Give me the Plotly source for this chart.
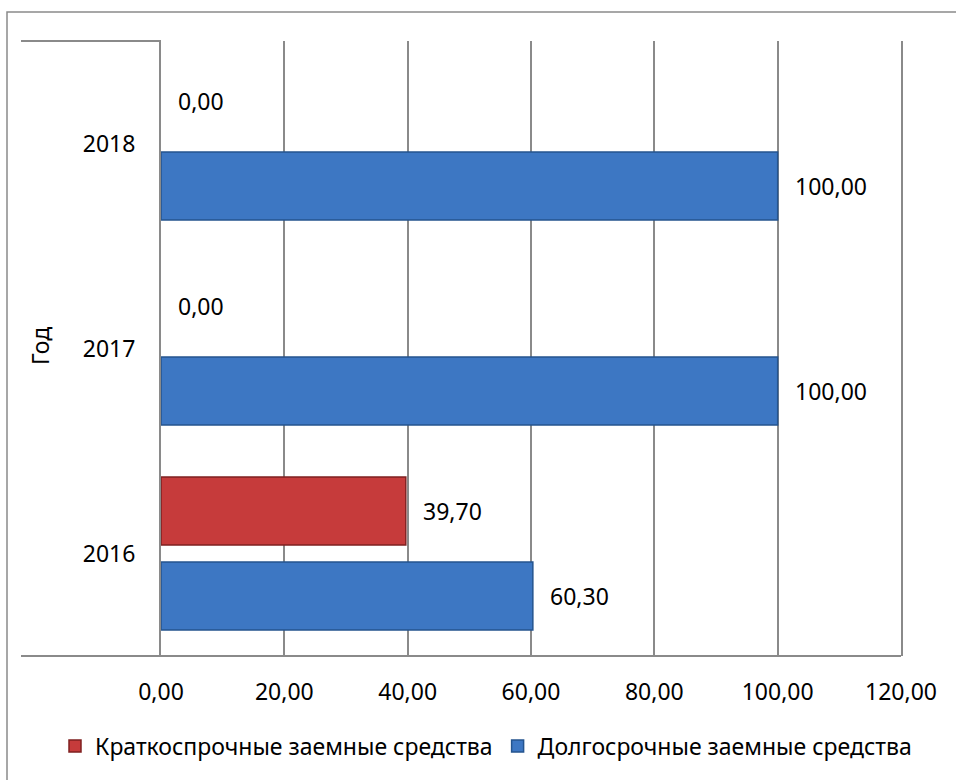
import plotly.graph_objects as go

years = ["2016", "2017", "2018"]
short_term = [39.70, 0.00, 0.00]
long_term = [60.30, 100.00, 100.00]
series_names = ["Краткоспрочные заемные средства", "Долгосрочные заемные средства"]
x_ticks = [0, 20, 40, 60, 80, 100, 120]
x_tick_labels = ["0,00", "20,00", "40,00", "60,00", "80,00", "100,00", "120,00"]
axis_title = "Год"

FONT = "Noto Sans"
FS = 23

def fmt(v):
    return f"{v:.2f}".replace(".", ",")

def outline_widths(vals):
    return [1.5 if v > 0 else 0 for v in vals]

W, H = 956, 780
L, R, T, B = 161, 55, 41, 124
pw, ph = W - L - R, H - T - B

fig = go.Figure()
fig.add_trace(go.Bar(
    y=years, x=long_term, orientation="h", name=series_names[1],
    marker=dict(color="#3d77c3", line=dict(color="#24548f", width=outline_widths(long_term))),
    legendrank=2,
))
fig.add_trace(go.Bar(
    y=years, x=short_term, orientation="h", name=series_names[0],
    marker=dict(color="#c63b3b", line=dict(color="#7f2020", width=outline_widths(short_term))),
    legendrank=1,
))

# data labels (category index used as y position)
for i, y in enumerate(years):
    fig.add_annotation(x=short_term[i], y=i, text=fmt(short_term[i]), xref="x", yref="y",
                       xanchor="left", yanchor="middle", xshift=15, yshift=42.5,
                       showarrow=False, font=dict(family=FONT, size=FS, color="#000"))
    fig.add_annotation(x=long_term[i], y=i, text=fmt(long_term[i]), xref="x", yref="y",
                       xanchor="left", yanchor="middle", xshift=15, yshift=-42.5,
                       showarrow=False, font=dict(family=FONT, size=FS, color="#000"))

# rotated axis title
fig.add_annotation(x=(40 - L) / pw, y=(656 - 346) / ph, xref="paper", yref="paper",
                   text=axis_title, textangle=-90, showarrow=False,
                   xanchor="center", yanchor="middle",
                   font=dict(family=FONT, size=FS, color="#000"))

gray = "#8a8a8a"
shapes = [
    dict(type="rect", xref="paper", yref="paper",
         x0=(7 - L) / pw, x1=(970 - L) / pw, y0=(656 - 12) / ph, y1=(656 - 800) / ph,
         line=dict(color=gray, width=1.5), fillcolor="rgba(0,0,0,0)", layer="below"),
    dict(type="line", xref="paper", yref="paper",
         x0=(21 - L) / pw, x1=0, y0=1, y1=1, line=dict(color=gray, width=2)),
    dict(type="line", xref="paper", yref="paper",
         x0=(21 - L) / pw, x1=1, y0=0, y1=0, line=dict(color=gray, width=2)),
]

fig.update_layout(
    width=W, height=H,
    margin=dict(l=L, r=R, t=T, b=B, pad=0),
    paper_bgcolor="white", plot_bgcolor="white",
    barmode="group", bargap=0.171, bargroupgap=0.2,
    font=dict(family=FONT, size=FS, color="#000"),
    shapes=shapes,
    showlegend=True,
    legend=dict(orientation="h", x=(55 - L) / pw, xanchor="left",
                y=(656 - 746) / ph, yanchor="middle",
                font=dict(family=FONT, size=FS, color="#000"),
                itemwidth=30, bgcolor="rgba(0,0,0,0)"),
    xaxis=dict(range=[0, 120], tickvals=x_ticks, ticktext=x_tick_labels,
               showgrid=True, gridcolor=gray, gridwidth=2, zeroline=False,
               showline=False, ticks="", ticklabelstandoff=20,
               tickfont=dict(family=FONT, size=FS, color="#000"), fixedrange=True),
    yaxis=dict(type="category", categoryorder="array", categoryarray=years,
               range=[-0.5, 2.5],
               showgrid=False, zeroline=False, ticks="",
               showline=True, mirror=True, linecolor=gray, linewidth=2,
               layer="below traces",
               ticklabelstandoff=19,
               tickfont=dict(family=FONT, size=FS, color="#000"), fixedrange=True),
)

fig.write_html("out.html")
